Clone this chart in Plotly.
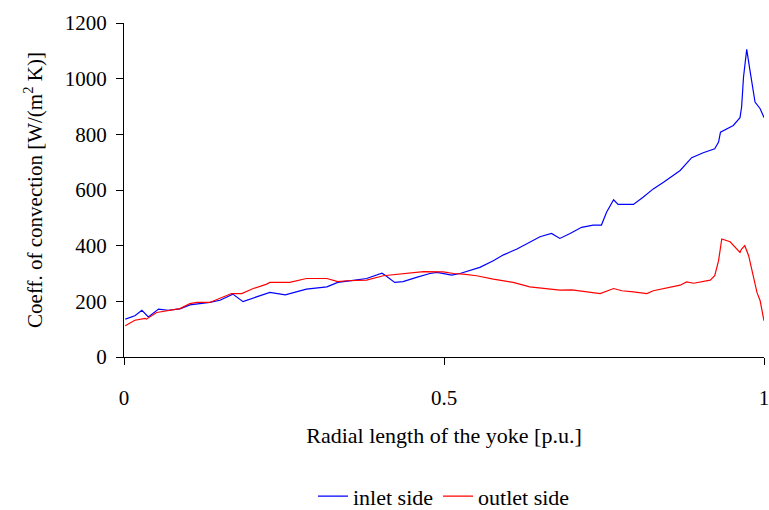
import plotly.graph_objects as go

inlet_x = [0.002, 0.017, 0.028, 0.038, 0.054, 0.069, 0.0875, 0.103, 0.134, 0.15, 0.17, 0.186,
           0.207, 0.228, 0.252, 0.285, 0.317, 0.334, 0.361, 0.379, 0.403, 0.408, 0.423, 0.436,
           0.457, 0.478, 0.489, 0.502, 0.512, 0.525, 0.541, 0.556, 0.577, 0.593, 0.614, 0.634,
           0.65, 0.668, 0.681, 0.697, 0.715, 0.733, 0.746, 0.754, 0.765, 0.772, 0.796, 0.811,
           0.827, 0.843, 0.869, 0.887, 0.905, 0.923, 0.929, 0.932, 0.952, 0.9625, 0.965, 0.968,
           0.973, 0.978, 0.986, 0.994, 1.0]
inlet_y = [136, 148, 168, 144, 172, 168, 173, 187, 196, 204, 226, 199,
           216, 232, 223, 244, 252, 268, 276, 282, 301, 294, 268, 271,
           286, 300, 304, 298, 294, 300, 312, 322, 346, 367, 388, 414,
           432, 444, 426, 444, 466, 474, 474, 520, 565, 548, 548, 574,
           604, 628, 670, 716, 734, 748, 772, 808, 832, 860, 898, 1006,
           1105, 1031, 916, 892, 860]

outlet_x = [0.002, 0.017, 0.033, 0.035, 0.051, 0.069, 0.0875, 0.103, 0.114, 0.134, 0.155, 0.168,
            0.184, 0.202, 0.223, 0.228, 0.259, 0.285, 0.317, 0.334, 0.348, 0.379, 0.405, 0.436,
            0.468, 0.499, 0.515, 0.530, 0.551, 0.577, 0.608, 0.634, 0.655, 0.681, 0.700, 0.720,
            0.744, 0.765, 0.778, 0.796, 0.817, 0.827, 0.848, 0.869, 0.879, 0.890, 0.916, 0.923,
            0.929, 0.934, 0.947, 0.9625, 0.965, 0.970, 0.976, 0.989, 0.994, 1.0]
outlet_y = [112, 132, 139, 136, 160, 166, 174, 192, 196, 196, 216, 228,
            228, 246, 262, 268, 268, 282, 282, 271, 274, 276, 292, 300,
            307, 306, 300, 298, 292, 280, 268, 252, 246, 240, 241, 234,
            228, 246, 238, 234, 228, 238, 248, 258, 270, 265, 276, 292,
            346, 424, 414, 376, 388, 400, 364, 232, 202, 130]

x_ticks = [0, 0.5, 1]
x_tick_text = ["0", "0.5", "1"]
y_ticks = [0, 200, 400, 600, 800, 1000, 1200]

FONT = "Liberation Serif"

fig = go.Figure()
fig.add_trace(go.Scatter(x=inlet_x, y=inlet_y, mode="lines", name="inlet side",
                         line=dict(color="#0000ff", width=1.2)))
fig.add_trace(go.Scatter(x=outlet_x, y=outlet_y, mode="lines", name="outlet side",
                         line=dict(color="#ff0000", width=1.2)))

fig.update_layout(
    width=769, height=510,
    margin=dict(l=124, r=5, t=23, b=153, autoexpand=False),
    paper_bgcolor="white", plot_bgcolor="white",
    font=dict(family=FONT, size=21, color="black"),
    showlegend=True,
    legend=dict(orientation="h", xref="paper", x=0.5, xanchor="center",
                yref="container", y=0.027, yanchor="middle",
                font=dict(family=FONT, size=22), itemwidth=30, tracegroupgap=0),
)
fig.update_xaxes(
    range=[0, 1], tickvals=x_ticks, ticktext=x_tick_text, automargin=False,
    ticklabeloverflow="allow",
    showgrid=False, zeroline=False, showline=True, linecolor="black", linewidth=1,
    ticks="outside", ticklen=7, tickcolor="black", ticklabelstandoff=15,
    tickfont=dict(family=FONT, size=21),
    title=dict(text="Radial length of the yoke [p.u.]", standoff=18,
               font=dict(family=FONT, size=22)),
)
fig.update_yaxes(
    range=[0, 1200], tickvals=y_ticks, automargin=False,
    ticklabeloverflow="allow",
    showgrid=False, zeroline=False, showline=True, linecolor="black", linewidth=1,
    ticks="outside", ticklen=7, tickcolor="black", ticklabelstandoff=5,
    tickfont=dict(family=FONT, size=21),
    title=dict(text="Coeff. of convection [W/(m<sup>2</sup> K)]", standoff=16,
               font=dict(family=FONT, size=21)),
)

fig.write_html("out.html")
